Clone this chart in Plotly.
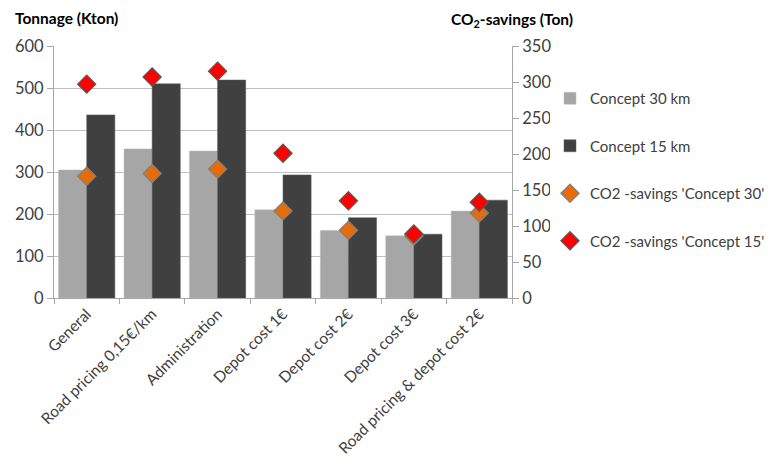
import plotly.graph_objects as go

categories = ["General", "Road pricing 0,15€/km", "Administration", "Depot cost 1€",
              "Depot cost 2€", "Depot cost 3€", "Road pricing & depot cost 2€"]
concept30 = [305, 355, 350, 210, 161, 148, 207]
concept15 = [436, 510, 519, 293, 191, 152, 233]
co2_30 = [169, 173, 179, 121, 94, 86, 118]
co2_15 = [297, 307, 315, 201, 135, 89, 133]

FONT = "Lato, 'Open Sans', sans-serif"
L, R, T, B = 54, 260, 46, 166
W, H = 772, 464
pw = W - L - R
ph = H - T - B

fig = go.Figure()
fig.add_trace(go.Bar(x=categories, y=concept30, name="Concept 30 km",
                     marker=dict(color="#A6A6A6", line=dict(color="#BFBFBF", width=0.5)),
                     legendgroup="a"))
fig.add_trace(go.Bar(x=categories, y=concept15, name="Concept 15 km",
                     marker=dict(color="#404040", line=dict(color="#595959", width=0.5)),
                     legendgroup="b"))
fig.add_trace(go.Scatter(x=categories, y=co2_30, name="CO2 -savings 'Concept 30'", mode="markers",
                         yaxis="y2", legendgroup="c",
                         marker=dict(symbol="diamond", size=14, color="#E46C0A",
                                     line=dict(color="#808080", width=1.2))))
fig.add_trace(go.Scatter(x=categories, y=co2_15, name="CO2 -savings 'Concept 15'", mode="markers",
                         yaxis="y2", legendgroup="d",
                         marker=dict(symbol="diamond", size=14, color="#FF0000",
                                     line=dict(color="#595959", width=1.2))))

fig.update_layout(
    width=W, height=H,
    margin=dict(l=L, r=R, t=T, b=B, autoexpand=False),
    paper_bgcolor="white", plot_bgcolor="white",
    font=dict(family=FONT, size=15, color="#404040"),
    barmode="group", bargap=0.14, bargroupgap=0,
    showlegend=True,
    legend=dict(x=(550 - L) / pw, y=(H - B - 82) / ph, xanchor="left", yanchor="top",
                traceorder="grouped", tracegroupgap=25,
                font=dict(size=15, color="#404040")),
    xaxis=dict(tickangle=-45, showline=True, linecolor="#A6A6A6", automargin=False,
               ticks="outside", tickson="boundaries", ticklen=5, tickcolor="#A6A6A6",
               tickfont=dict(size=15.5, color="#404040")),
    yaxis=dict(range=[0, 600], dtick=100, showgrid=True, gridcolor="#BFBFBF",
               showline=True, linecolor="#A6A6A6", ticks="outside", ticklen=6,
               tickcolor="#A6A6A6", zeroline=False, automargin=False,
               tickfont=dict(size=16.5, color="#404040")),
    yaxis2=dict(range=[0, 350], dtick=50, overlaying="y", side="right",
                showgrid=False, showline=True, linecolor="#A6A6A6", automargin=False,
                ticks="outside", ticklen=6, tickcolor="#A6A6A6", zeroline=False,
                tickfont=dict(size=16.5, color="#404040")),
    annotations=[
        dict(text="<b>Tonnage (Kton)</b>", xref="paper", yref="paper",
             x=(13 - L) / pw, y=(H - B - 18) / ph, xanchor="left", yanchor="middle",
             showarrow=False, font=dict(size=15.5, color="#000000")),
        dict(text="<b>CO<sub>2</sub>-savings (Ton)</b>", xref="paper", yref="paper",
             x=(512 - L) / pw, y=(H - B - 20) / ph, xanchor="center", yanchor="middle",
             showarrow=False, font=dict(size=15.5, color="#000000")),
    ],
)

fig.write_html("out.html", config={"displayModeBar": False},
               post_script="document.body.style.margin='0';document.body.style.overflow='hidden';")
